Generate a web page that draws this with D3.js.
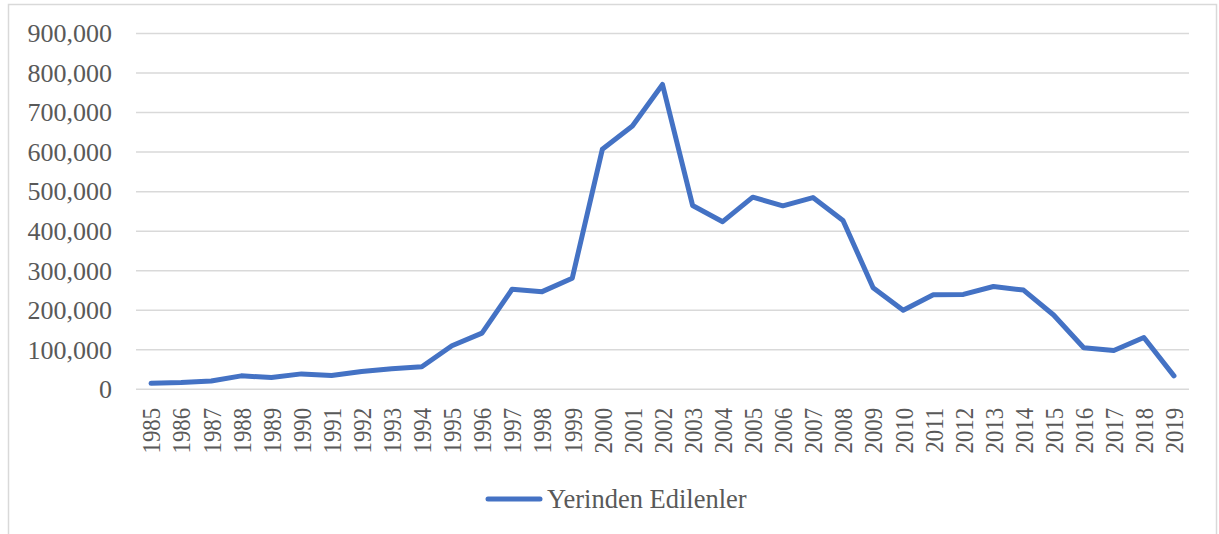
<!DOCTYPE html>
<meta charset="utf-8">
<style>
body { margin: 0; background: #fff; }
svg { display: block; font-family: "Liberation Serif", "Times New Roman", serif; }
.grid line { stroke: #d9d9d9; stroke-width: 1.5; }
.tick text { fill: #595959; }
</style>
<svg width="1219" height="534"></svg>
<script src="https://d3js.org/d3.v7.min.js"></script>
<script>

var years = ["1985","1986","1987","1988","1989","1990","1991","1992","1993","1994",
  "1995","1996","1997","1998","1999","2000","2001","2002","2003","2004",
  "2005","2006","2007","2008","2009","2010","2011","2012","2013","2014",
  "2015","2016","2017","2018","2019"];
var displaced = [15000, 17000, 21000, 34000, 30000, 39000, 35000, 45000, 52000, 57000,
  110000, 142000, 253000, 247000, 281000, 607000, 666000, 771000, 465000, 424000,
  486000, 464000, 485000, 427000, 257000, 200000, 239000, 240000, 260000, 251000,
  188000, 105000, 98000, 131000, 34000];
var yTicks = [0, 100000, 200000, 300000, 400000, 500000, 600000, 700000, 800000, 900000];
var seriesName = "Yerinden Edilenler";

var svg = d3.select("svg"),
    margin = {top: 33.5, right: 30, bottom: 144.7, left: 136},
    width = +svg.attr("width") - margin.left - margin.right,
    height = +svg.attr("height") - margin.top - margin.bottom;

// outer frame
svg.append("rect")
    .attr("x", 8.5).attr("y", 4.5)
    .attr("width", 1208).attr("height", 540)
    .attr("fill", "none")
    .attr("stroke", "#d9d9d9")
    .attr("stroke-width", 1.5);

var x = d3.scalePoint().domain(years).range([0, width]).padding(0.5),
    y = d3.scaleLinear().domain([0, 900000]).range([height, 0]);

var g = svg.append("g")
    .attr("transform", "translate(" + margin.left + "," + margin.top + ")");

// gridlines
g.append("g")
    .attr("class", "grid")
    .selectAll("line")
    .data(yTicks)
    .enter().append("line")
      .attr("x1", 0).attr("x2", width)
      .attr("y1", function(d) { return y(d); })
      .attr("y2", function(d) { return y(d); });

// y axis labels
var yAxis = g.append("g")
    .call(d3.axisLeft(y).tickValues(yTicks).tickSize(0).tickPadding(24)
      .tickFormat(d3.format(",")));
yAxis.select(".domain").remove();
yAxis.selectAll("text").attr("font-size", 26).attr("font-family", "Liberation Serif");

// x axis labels (rotated, slightly condensed along their length)
var xAxis = g.append("g")
    .attr("transform", "translate(0," + height + ")")
    .call(d3.axisBottom(x).tickSize(0));
xAxis.select(".domain").remove();
xAxis.selectAll("text")
    .attr("font-size", 26)
    .attr("font-family", "Liberation Serif")
    .attr("transform", "rotate(-90) scale(0.88,1)")
    .attr("text-anchor", "end")
    .attr("x", -21)
    .attr("y", 0)
    .attr("dy", "0.34em");

// the series
var line = d3.line()
    .x(function(d, i) { return x(years[i]); })
    .y(function(d) { return y(d); });

g.append("path")
    .datum(displaced)
    .attr("fill", "none")
    .attr("stroke", "#4472c4")
    .attr("stroke-width", 5)
    .attr("stroke-linejoin", "round")
    .attr("stroke-linecap", "round")
    .attr("d", line);

// legend
var legend = svg.append("g").attr("transform", "translate(486,499)");
legend.append("line")
    .attr("x1", 2).attr("x2", 54)
    .attr("stroke", "#4472c4")
    .attr("stroke-width", 5)
    .attr("stroke-linecap", "round");
legend.append("text")
    .attr("x", 61)
    .attr("dy", "0.34em")
    .attr("font-size", 26.5)
    .attr("fill", "#595959")
    .text(seriesName);

</script>
